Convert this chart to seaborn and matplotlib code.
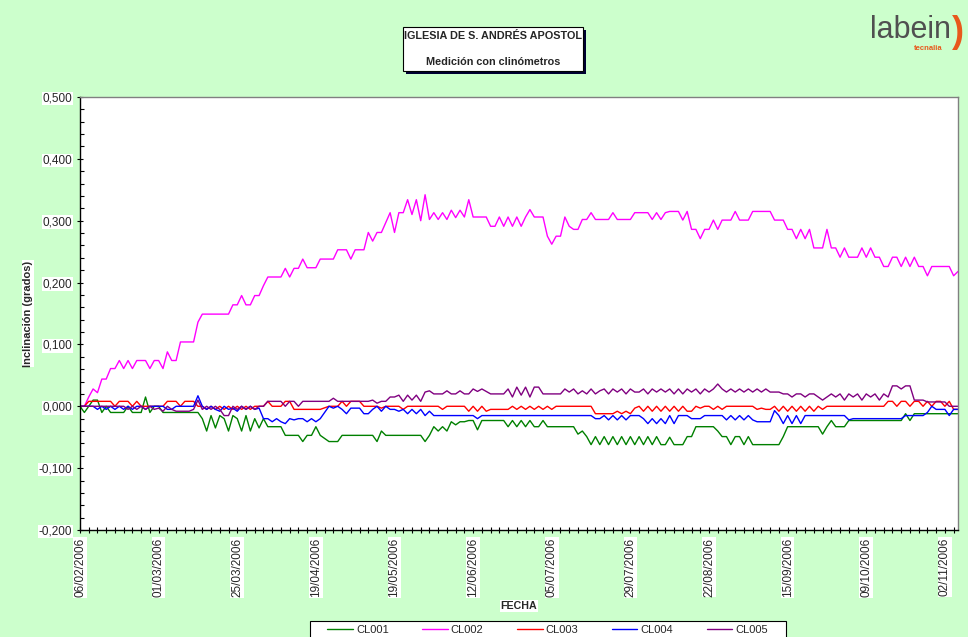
import numpy as np
import pandas as pd
import matplotlib
matplotlib.use("Agg")
import matplotlib.pyplot as plt
import seaborn as sns
from matplotlib.patches import Rectangle
from matplotlib.ticker import MultipleLocator, FixedLocator, FuncFormatter

sns.set_style("ticks")
plt.rcParams['font.family'] = ['Liberation Sans', 'DejaVu Sans']

# Reading dates shown on the category axis (one label every 18 readings)
fecha_labels = ["06/02/2006", "01/03/2006", "25/03/2006", "19/04/2006",
                "19/05/2006", "12/06/2006", "05/07/2006", "29/07/2006",
                "22/08/2006", "15/09/2006", "09/10/2006", "02/11/2006"]
label_step = 18
tick_step = 2

# Inclination per reading, in thousandths of a degree (None = missing reading)
cl001 = [0, -10, 0, 10, 10, -10, 0, -10, -10, -10,
         -10, 0, -10, -10, -10, 15, -10, 0, 0, -10,
         -10, -10, -10, -10, -10, -10, -10, -10, -20, -40,
         -15, -35, -15, -20, -40, -15, -20, -40, -15, -40,
         -20, -35, -20, -33, -33, -33, -33, -47, -47, -47,
         -47, -57, -47, -47, -33, -47, None, -57, -57, -57,
         -47, -47, -47, -47, -47, -47, -47, -47, -57, -40,
         -47, -47, -47, -47, -47, -47, -47, -47, -47, -57,
         -47, -33, -40, -33, -40, -25, -30, -25, -25, -23,
         -23, -38, -23, -23, -23, -23, -23, -23, -33, -23,
         -33, -23, -33, -23, -33, -33, -23, -33, -33, -33,
         -33, -33, -33, -33, -45, -40, -49, -62, -49, -62,
         -49, -62, -49, -62, -49, -62, -49, -62, -49, -62,
         -49, -62, -49, -62, -62, -50, -62, -62, -62, -49,
         -49, -33, -33, -33, -33, -33, -40, -49, -49, -62,
         -49, -49, -62, -49, -62, -62, -62, -62, -62, -62,
         -62, -49, -33, -33, -33, -33, -33, -33, -33, -33,
         -45, -33, -23, -33, -33, -33, -23, -23, -23, -23,
         -23, -23, -23, -23, -23, -23, -23, -23, -23, -12,
         -23, -12, -12, -12, -12, -12, -12, -12, -12, -12,
         -12, -12]

cl002 = [0, 0, 15, 28, 22, 44, 44, 61, 61, 74,
         61, 74, 61, 74, 74, 74, 61, 74, 74, 61,
         88, 74, 74, 104, 104, 104, 104, 136, 149, 149,
         149, 149, 149, 149, 149, 164, 164, 179, 164, 164,
         179, 179, 195, 209, 209, 209, 209, 223, 209, 223,
         223, 238, 224, 224, 224, 238, None, 238, 238, 253,
         253, 253, 238, 253, 253, 253, 281, 267, 281, 281,
         297, 313, 281, 313, 313, 334, 310, 334, 300, 342,
         302, 313, 302, 313, 302, 317, 305, 317, 306, 334,
         306, 306, 306, 306, 291, 291, 306, 291, 306, 291,
         306, 291, 306, 318, 306, 306, 306, 275, 262, 275,
         275, 306, 291, 286, 286, 302, 302, 313, 302, 302,
         302, 302, 313, 302, 302, 302, 302, 313, 313, 313,
         313, 302, 313, 302, 313, 315, 315, 315, 301, 315,
         286, 286, 271, 286, 286, 301, 286, 301, 301, 301,
         315, 301, 301, 301, 315, 315, 315, 315, 315, 301,
         301, 301, 286, 286, 271, 286, 271, 286, 256, 256,
         256, 286, 256, 256, 241, 256, 241, 241, 241, 256,
         241, 256, 241, 241, 226, 226, 241, 241, 226, 241,
         226, 241, 226, 226, 211, 226, 226, 226, 226, 226,
         211, 218]

cl003 = [0, 0, 8, 8, 8, 8, 8, 8, 0, 8,
         8, 8, 0, 8, 0, 0, 0, 0, 0, 0,
         8, 8, 8, 0, 8, 8, 8, 0, 0, -5,
         0, -5, 0, -5, 0, -5, 0, -5, 0, -5,
         0, 0, 0, 8, 0, 0, 0, 8, 8, -5,
         -5, -5, -5, -5, -5, -5, None, 0, 0, 0,
         8, 0, 8, 8, 8, 0, 0, 0, 0, -3,
         0, 0, 0, 0, -5, 0, 0, 0, 0, 0,
         0, 0, 0, -5, 0, 0, 0, 0, 0, -8,
         0, -8, 0, -8, -5, -5, -5, -5, -5, 0,
         -5, 0, -5, 0, -5, 0, -5, 0, -5, 0,
         0, 0, 0, 0, 0, 0, 0, 0, -12, -12,
         -12, -12, -12, -8, -12, -8, -12, -3, 0, -8,
         0, -8, 0, -8, 0, -8, 0, -8, 0, -8,
         -8, 0, -3, 0, 0, -5, 0, -5, 0, 0,
         0, 0, 0, 0, 0, -5, -3, -5, -5, 0,
         -8, 0, -8, 0, -8, 0, -8, 0, -8, 0,
         -5, 0, 0, 0, 0, 0, 0, 0, 0, 0,
         0, 0, 0, 0, 0, 8, 8, 0, 8, 8,
         0, 8, 8, 0, 8, 0, 8, 8, 0, 8,
         -5, -5]

cl004 = [0, 0, 0, 0, -5, 0, -5, 0, -5, 0,
         -5, 0, -5, 0, 0, -5, 0, 0, 0, 0,
         -5, -5, 0, 0, 0, 0, 0, 17, 0, -5,
         0, -5, -8, 0, -5, -3, -8, 0, -5, 0,
         -5, -3, -20, -20, -25, -20, -25, -28, -20, -22,
         -20, -20, -25, -20, -25, -20, None, 0, -3, 0,
         -5, -12, -3, -3, -3, -12, -12, -5, 0, -8,
         0, -5, -5, -8, -5, -12, -5, -12, -5, -15,
         -8, -15, -15, -15, -15, -15, -15, -15, -15, -15,
         -15, -20, -15, -15, -15, -15, -15, -15, -15, -15,
         -15, -15, -15, -15, -15, -15, -15, -15, -15, -15,
         -15, -15, -15, -15, -15, -15, -15, -15, -20, -20,
         -15, -22, -15, -22, -15, -22, -15, -15, -15, -20,
         -28, -20, -28, -20, -28, -15, -28, -15, -15, -15,
         -20, -20, -20, -15, -15, -15, -15, -15, -22, -15,
         -22, -15, -22, -15, -22, -25, -25, -25, -25, -7,
         -15, -28, -15, -28, -15, -28, -15, -15, -15, -15,
         -15, -15, -15, -15, -15, -15, -22, -20, -20, -20,
         -20, -20, -20, -20, -20, -20, -20, -20, -20, -15,
         -15, -15, -15, -15, -10, 0, -5, -5, -5, -15,
         -5, -5]

cl005 = [0, 0, 0, 0, 0, 0, 0, 0, 0, 0,
         0, -5, 0, -5, 0, -5, 0, -5, -3, -8,
         0, -5, -8, -8, -8, -8, -5, 10, -5, 0,
         -5, 0, -5, -15, -15, 0, -5, 0, -5, 0,
         -5, 0, 0, 8, 8, 8, 8, 0, 8, 8,
         0, 8, 8, 8, 8, 8, None, 8, 13, 8,
         8, 8, 8, 8, 8, 8, 8, 10, 5, 8,
         8, 15, 15, 18, 8, 18, 10, 18, 8, 23,
         25, 20, 20, 20, 25, 20, 20, 25, 20, 20,
         28, 24, 28, 24, 20, 20, 20, 20, 28, 15,
         31, 18, 31, 15, 31, 31, 20, 20, 20, 20,
         20, 28, 23, 28, 20, 25, 20, 28, 20, 25,
         28, 20, 28, 23, 28, 20, 28, 23, 23, 28,
         20, 28, 23, 28, 23, 28, 20, 28, 20, 28,
         23, 28, 20, 28, 23, 28, 36, 28, 23, 28,
         23, 28, 23, 28, 23, 28, 23, 28, 23, 23,
         23, 20, 20, 15, 20, 20, 15, 20, 20, 15,
         10, 15, 20, 15, 20, 10, 20, 15, 20, 10,
         20, 15, 20, 10, 20, 15, 33, 33, 28, 33,
         33, 10, 10, 10, 7, 7, 7, 7, 7, 0,
         0, 0]

sensor_names = ["CL001", "CL002", "CL003", "CL004", "CL005"]
sensor_colors = ["#008000", "#FF00FF", "#FF0000", "#0000FF", "#800080"]

frames = []
for name, vals in zip(sensor_names, [cl001, cl002, cl003, cl004, cl005]):
    v = np.array([np.nan if x is None else x for x in vals], dtype=float) / 1000.0
    frames.append(pd.DataFrame({"lectura": np.arange(len(v)),
                                "inclinacion": v, "sensor": name}))
df = pd.concat(frames, ignore_index=True)
n_points = len(cl001)

W, H = 968, 637
fig = plt.figure(figsize=(W / 100, H / 100), dpi=100, facecolor="#CCFFCC")

def fx(px):
    return px / W

def fy(py):
    return 1 - py / H

ax = fig.add_axes([fx(80), fy(530), fx(958) - fx(80), fy(97) - fy(530)])
ax.set_facecolor("white")

sns.lineplot(data=df, x="lectura", y="inclinacion", hue="sensor",
             palette=dict(zip(sensor_names, sensor_colors)),
             estimator=None, sort=False, linewidth=1.0, ax=ax)

ax.set_xlim(0, n_points - 1)
ax.set_ylim(-0.2, 0.5)

# y axis
ax.yaxis.set_major_locator(MultipleLocator(0.1))
ax.yaxis.set_minor_locator(MultipleLocator(0.02))
ax.yaxis.set_major_formatter(FuncFormatter(lambda v, p: f"{v:.3f}".replace(".", ",")))

# x axis: date labels every label_step readings, ticks every tick_step
label_pos = [i * label_step for i in range(len(fecha_labels))]
ax.xaxis.set_major_locator(FixedLocator(label_pos))
ax.set_xticklabels(fecha_labels, rotation=90, fontsize=8.5)
ax.xaxis.set_minor_locator(FixedLocator(list(range(0, n_points, tick_step))))

ax.tick_params(axis="both", which="major", direction="inout", length=5,
               width=0.8, color="black", labelsize=8.5)
ax.tick_params(axis="x", which="minor", direction="inout", length=5,
               width=0.8, color="black")
ax.tick_params(axis="y", which="minor", direction="in", length=3,
               width=0.8, color="black")
ax.tick_params(axis="y", which="major", pad=3)
ax.tick_params(axis="x", which="major", pad=3)

for side in ["left", "bottom"]:
    ax.spines[side].set_color("black")
    ax.spines[side].set_linewidth(1.0)
for side in ["top", "right"]:
    ax.spines[side].set_color("#808080")
    ax.spines[side].set_linewidth(1.0)

white_box = dict(facecolor="white", edgecolor="none", pad=0.6)
for lbl in ax.get_yticklabels() + ax.get_xticklabels():
    lbl.set_bbox(white_box)

ax.set_ylabel("Inclinación (grados)", fontsize=8, fontweight="bold",
              bbox=white_box)
ax.yaxis.label.set_verticalalignment("center")
ax.yaxis.set_label_coords((28 - 80) / 878, 0.5)
ax.set_xlabel("FECHA", fontsize=7.7, fontweight="bold", bbox=white_box)
ax.xaxis.label.set_verticalalignment("center")
ax.xaxis.set_label_coords(0.5, (530 - 606) / 433)

# legend along the bottom edge, framed by a box that runs off the page
handles, labels = ax.get_legend_handles_labels()
if ax.get_legend() is not None:
    ax.get_legend().remove()
fig.add_artist(Rectangle((fx(310), fy(645)), fx(476), fy(621) - fy(645),
                         transform=fig.transFigure, facecolor="white",
                         edgecolor="black", linewidth=0.8))
leg = fig.legend(handles, labels, loc="center left",
                 bbox_to_anchor=(fx(327), fy(630)), ncol=5, frameon=False,
                 fontsize=8, handlelength=2.3, handletextpad=0.3,
                 columnspacing=3.0, borderpad=0, borderaxespad=0)
for line in leg.get_lines():
    line.set_linewidth(1.0)

# title box with drop shadow
fig.add_artist(Rectangle((fx(406), fy(74)), fx(180), fy(0) - fy(44),
                         transform=fig.transFigure, facecolor="#000033",
                         edgecolor="none"))
fig.add_artist(Rectangle((fx(403), fy(71)), fx(180), fy(0) - fy(44),
                         transform=fig.transFigure, facecolor="white",
                         edgecolor="black", linewidth=0.8))
fig.text(fx(493), fy(36), "IGLESIA DE S. ANDRÉS APOSTOL", ha="center",
         va="center", fontsize=7.8, fontweight="bold")
fig.text(fx(493), fy(62), "Medición con clinómetros", ha="center",
         va="center", fontsize=7.8, fontweight="bold")

# company logo
fig.text(fx(911), fy(38), "labein", ha="center", va="baseline",
         fontsize=22, color="#505050")
fig.text(fx(928), fy(50), "tecnalia", ha="center", va="baseline",
         fontsize=5.5, fontweight="bold", color="#E8581C")
fig.text(fx(958), fy(32), ")", ha="center", va="center", fontsize=26,
         fontweight="bold", color="#E8581C")

fig.savefig("out.png", dpi=100, facecolor=fig.get_facecolor())
